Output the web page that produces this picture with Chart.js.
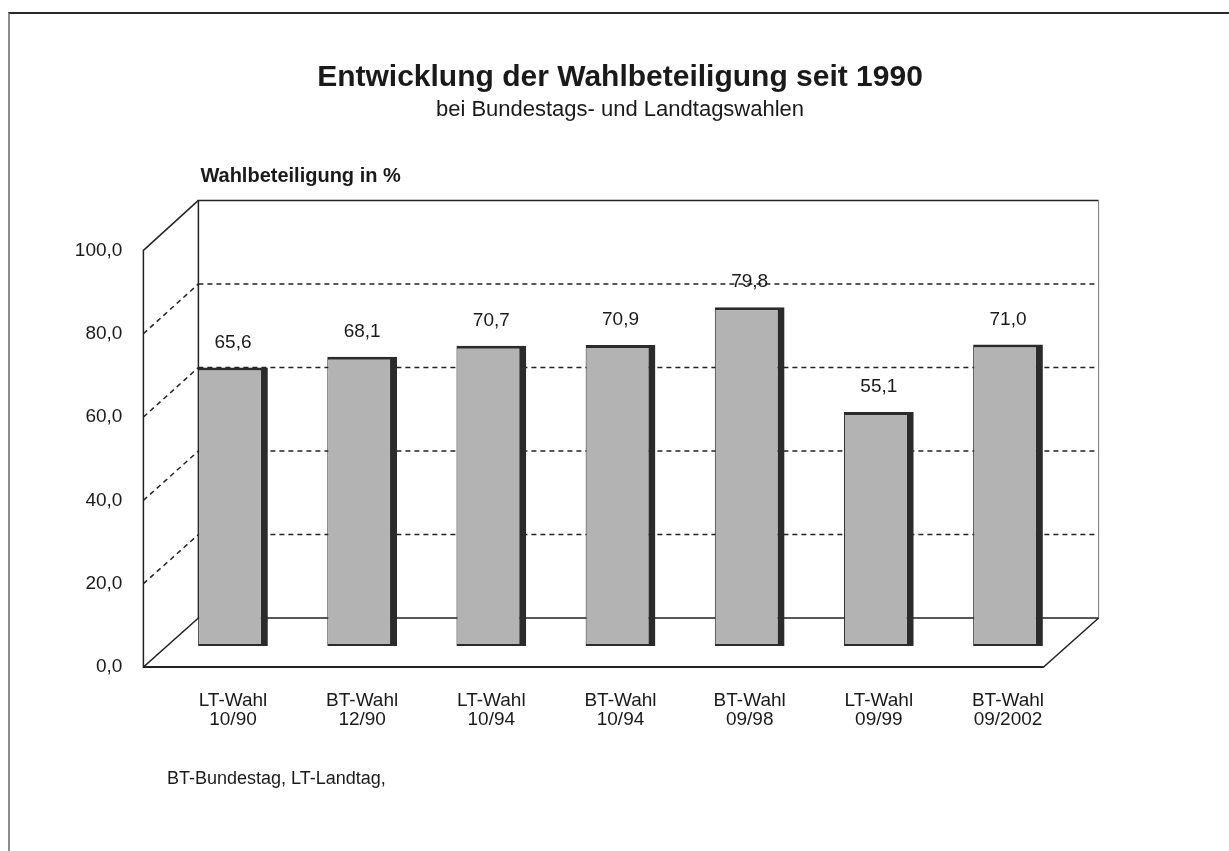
<!DOCTYPE html>
<html>
<head>
<meta charset="utf-8">
<title>Entwicklung der Wahlbeteiligung seit 1990</title>
<script src="https://cdn.jsdelivr.net/npm/chart.js@4.4.1/dist/chart.umd.min.js"></script>
<style>
  html, body { margin: 0; padding: 0; background: #fff; }
  #frame { position: absolute; left: 8px; top: 12px; right: 0; bottom: 0;
           border-top: 2px solid #2a2a2a; border-left: 2px solid #8c8c8c; }
  #chart { position: absolute; left: 0; top: 0; }
</style>
</head>
<body>
<div id="frame"></div>
<canvas id="chart" width="1229" height="851"></canvas>
<script>
// Wahlbeteiligung in % (values as printed above the bars)
const categories = [
  ['LT-Wahl', '10/90'],
  ['BT-Wahl', '12/90'],
  ['LT-Wahl', '10/94'],
  ['BT-Wahl', '10/94'],
  ['BT-Wahl', '09/98'],
  ['LT-Wahl', '09/99'],
  ['BT-Wahl', '09/2002']
];
const turnout = [65.6, 68.1, 70.7, 70.9, 79.8, 55.1, 71.0];
const yTicks = [0, 20, 40, 60, 80, 100];

const FONT = "'Liberation Sans', Arial, sans-serif";
Chart.defaults.font.family = FONT;
Chart.defaults.color = '#1a1a1a';

// German number format: 65,6
function fmt(v) {
  return v.toFixed(1).replace('.', ',');
}

// depth of the 3d box (front axis -> back wall)
const depthX = 55;

// back wall, gridlines and floor of the 3d frame
const frame3d = {
  id: 'frame3d',
  beforeDatasetsDraw(chart) {
    const { ctx, chartArea: a, scales } = chart;
    const yF = scales.y, yB = scales.yBack;
    const fx = a.left - 25;          // front left edge
    const bx = fx + depthX;          // back wall left
    const bxr = a.right + 26;        // back wall right
    const fxr = bxr - depthX;        // front floor right
    const top = yB.getPixelForValue(100);
    const bottom = yB.getPixelForValue(0);

    ctx.save();
    ctx.strokeStyle = '#222';
    ctx.lineWidth = 1.5;

    // dashed gridlines on the back wall + left side wall
    ctx.setLineDash([5, 4]);
    yTicks.forEach(v => {
      if (v === 0 || v === 100) return;
      const yb = yB.getPixelForValue(v), yf = yF.getPixelForValue(v);
      ctx.beginPath();
      ctx.moveTo(bx, yb); ctx.lineTo(bxr, yb);
      ctx.moveTo(fx, yf); ctx.lineTo(bx, yb);
      ctx.stroke();
    });
    ctx.setLineDash([]);

    // back wall outline
    ctx.beginPath();
    ctx.moveTo(bx, bottom); ctx.lineTo(bx, top); ctx.lineTo(bxr, top);
    ctx.moveTo(bx, bottom); ctx.lineTo(bxr, bottom);
    ctx.stroke();
    ctx.strokeStyle = '#777';
    ctx.lineWidth = 1;
    ctx.beginPath();
    ctx.moveTo(bxr, top); ctx.lineTo(bxr, bottom);
    ctx.stroke();

    // front axis, floor edge and diagonals
    ctx.strokeStyle = '#222';
    ctx.lineWidth = 1.5;
    const f0 = yF.getPixelForValue(0), f100 = yF.getPixelForValue(100);
    ctx.beginPath();
    ctx.moveTo(bx, top); ctx.lineTo(fx, f100); ctx.lineTo(fx, f0);
    ctx.lineTo(bx, bottom);
    ctx.moveTo(fx, f0); ctx.lineTo(fxr, f0); ctx.lineTo(bxr, bottom);
    ctx.stroke();
    ctx.lineWidth = 2;
    ctx.beginPath();
    ctx.moveTo(fx, f0); ctx.lineTo(fxr, f0);
    ctx.stroke();
    ctx.restore();
  },
  afterDatasetsDraw(chart) {
    const { ctx } = chart;
    const meta = chart.getDatasetMeta(0);
    ctx.save();
    ctx.font = '19px ' + FONT;
    ctx.fillStyle = '#1a1a1a';
    ctx.textAlign = 'center';
    ctx.textBaseline = 'middle';
    meta.data.forEach((bar, i) => {
      ctx.fillText(fmt(turnout[i]), bar.x, bar.y - 25);
    });
    ctx.restore();
  },
  afterDraw(chart) {
    const { ctx, chartArea: a } = chart;
    ctx.save();
    ctx.fillStyle = '#1a1a1a';
    ctx.textBaseline = 'middle';
    ctx.textAlign = 'left';
    ctx.font = 'bold 20px ' + FONT;
    ctx.fillText('Wahlbeteiligung in %', a.left + 32, 176);
    ctx.font = '18px ' + FONT;
    ctx.fillText('BT-Bundestag, LT-Landtag,', 167, 779);
    ctx.restore();
  }
};

const ctx = document.getElementById('chart').getContext('2d');
const chart = new Chart(ctx, {
  type: 'bar',
  data: {
    labels: categories,
    datasets: [{
      data: turnout,
      yAxisID: 'yBar',
      backgroundColor: '#b3b3b3',
      borderColor: '#2b2b2b',
      borderWidth: { top: 3, right: 7, bottom: 2, left: 1 },
      borderSkipped: false,
      barPercentage: 0.54,
      categoryPercentage: 1
    }]
  },
  options: {
    responsive: false,
    devicePixelRatio: 1,
    animation: false,
    layout: { padding: { left: 11, right: 0, top: 0, bottom: 0 } },
    plugins: {
      legend: { display: false },
      tooltip: { enabled: false },
      title: {
        display: true,
        text: 'Entwicklung der Wahlbeteiligung seit 1990',
        color: '#1a1a1a',
        font: { size: 30, weight: 'bold' },
        padding: { top: 60, bottom: 1 }
      },
      subtitle: {
        display: true,
        text: 'bei Bundestags- und Landtagswahlen',
        color: '#1a1a1a',
        font: { size: 22 },
        padding: { top: 0, bottom: 77 }
      }
    },
    scales: {
      x: {
        grid: { display: false },
        border: { display: false },
        ticks: {
          autoSkip: false,
          maxRotation: 0,
          padding: 16,
          font: { size: 19, lineHeight: 1.0 },
          color: '#1a1a1a'
        },
        afterFit(s) { s.height = 184; }
      },
      y: {
        position: 'left',
        min: 0,
        max: 112,
        afterBuildTicks(s) { s.ticks = yTicks.map(v => ({ value: v })); },
        grid: { display: false, drawTicks: false },
        border: { display: false },
        ticks: {
          padding: 46,
          font: { size: 19 },
          color: '#1a1a1a',
          callback: v => fmt(v)
        },
        afterFit(s) { s.width = 157.4; }
      },
      yBar: {
        display: false,
        min: -4.94,
        max: 104.94
      },
      yBack: {
        position: 'right',
        min: -11.72,
        max: 100,
        grid: { display: false, drawTicks: false },
        border: { display: false },
        ticks: { display: false },
        afterFit(s) { s.width = 156.4; }
      }
    }
  },
  plugins: [frame3d]
});
</script>
</body>
</html>
